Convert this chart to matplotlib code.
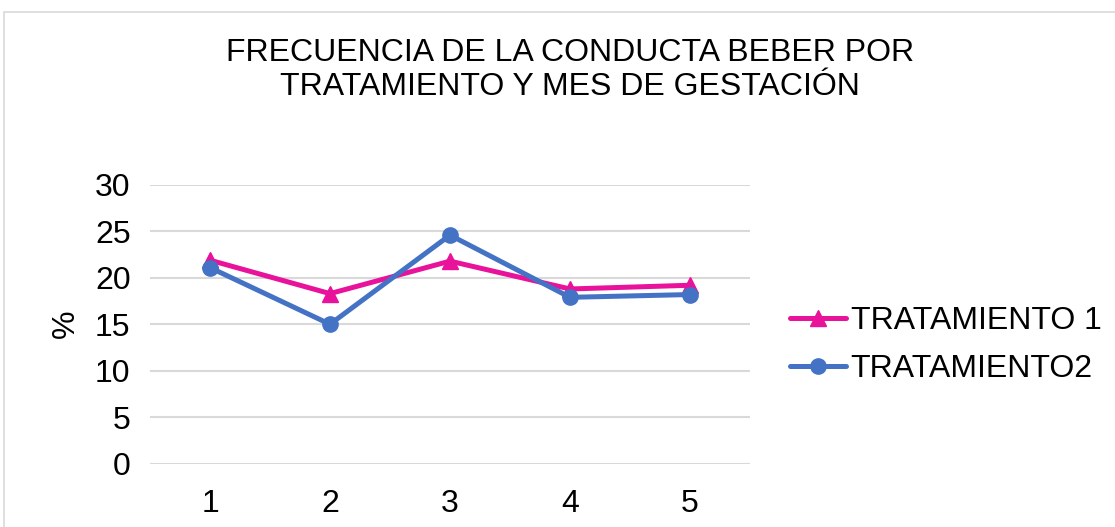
import matplotlib.pyplot as plt
from matplotlib.patches import Rectangle
import matplotlib

matplotlib.rc('font', family=['Liberation Sans', 'DejaVu Sans'], size=23)

# Data
meses = [1, 2, 3, 4, 5]
tratamiento1 = [21.9, 18.3, 21.8, 18.8, 19.2]
tratamiento2 = [21.1, 15.0, 24.6, 17.9, 18.2]
etiquetas = ['TRATAMIENTO 1', 'TRATAMIENTO2']

fig = plt.figure(figsize=(11.15, 5.27), dpi=100)
ax = fig.add_axes([150 / 1115, 1 - 463.5 / 527, 600 / 1115, 278.5 / 527])

# chart border like the spreadsheet frame
fig.patches.append(Rectangle((4 / 1115, -0.1), 1.2, (527 - 12) / 527 + 0.1,
                             transform=fig.transFigure, fill=False,
                             edgecolor='#d9d9d9', linewidth=1.2))

ax.plot(meses, tratamiento1, color='#E8129B', linewidth=3.6, marker='^',
        markersize=11, label=etiquetas[0], solid_capstyle='round')
ax.plot(meses, tratamiento2, color='#4472C4', linewidth=3.6, marker='o',
        markersize=11, label=etiquetas[1], solid_capstyle='round')

ax.set_xlim(0.5, 5.5)
ax.set_ylim(0, 30)
ax.set_yticks(range(0, 31, 5))
ax.set_xticks(meses)
ax.grid(axis='y', color='#d9d9d9', linewidth=1.5)
ax.set_axisbelow(True)
for s in ax.spines.values():
    s.set_visible(False)
ax.tick_params(length=0, labelsize=23, colors='black')
ax.tick_params(axis='y', pad=14)
ax.tick_params(axis='x', pad=18)

ax.set_ylabel('%', fontsize=23, labelpad=10)

fig.text(570 / 1115, 1 - 70 / 527,
         'FRECUENCIA DE LA CONDUCTA BEBER POR\nTRATAMIENTO Y MES DE GESTACIÓN',
         ha='center', va='center', fontsize=23, linespacing=1.15)

fig.legend(handles=ax.get_lines(), loc='center left',
           bbox_to_anchor=(790 / 1115, 1 - 345 / 527), frameon=False,
           borderaxespad=0, borderpad=0,
           fontsize=23, handlelength=1.75, handletextpad=0.15, labelspacing=0.55)

fig.savefig('out.png', dpi=100, facecolor='white')
